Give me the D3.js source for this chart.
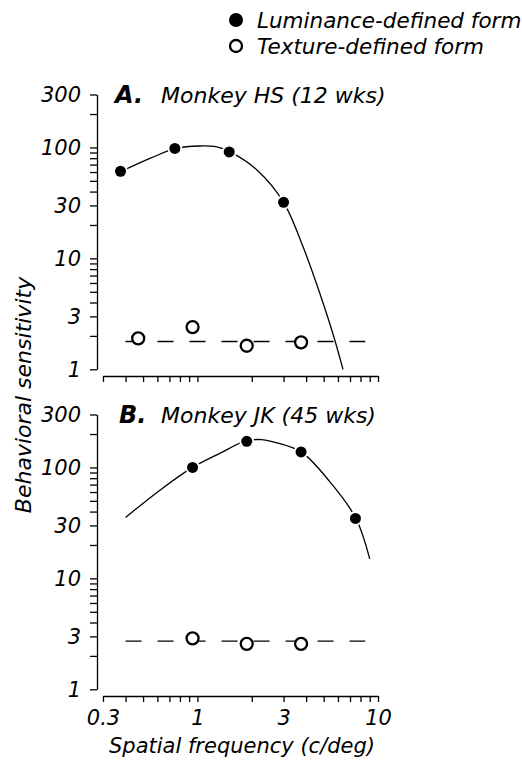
<!DOCTYPE html>
<html>
<head>
<meta charset="utf-8">
<script src="https://cdn.jsdelivr.net/npm/d3@7"></script>
<style>
  body { margin: 0; background: #fff; }
  svg { font-family: "DejaVu Sans", sans-serif; font-style: italic; }
  .axis path, .axis line { stroke: #000; stroke-width: 1.3; }
  .axis text { font-size: 21px; fill: #000; font-family: "DejaVu Sans", sans-serif; }
</style>
</head>
<body>
<svg id="chart" width="522" height="762"></svg>
<script>
// values: spatial frequency (c/deg) and sensitivity
const lumFreqA = [0.375, 0.75, 1.5, 3];
const lumSensA = [61, 98, 91, 32];
const texFreqA = [0.47, 0.94, 1.875, 3.75];
const texSensA = [1.9, 2.4, 1.63, 1.75];
const texLevelA = 1.78;
const fitFreqA = [0.38, 0.55, 0.76, 1.03, 1.28, 1.5, 2.15, 3.0, 3.86, 4.77, 5.65, 6.4];
const fitSensA = [61, 80, 98, 103, 101, 92, 62, 32, 12.5, 4.8, 2.05, 1.0];

const lumFreqB = [0.94, 1.875, 3.75, 7.5];
const lumSensB = [100, 172, 138, 34.7];
const texFreqB = [0.94, 1.875, 3.75];
const texSensB = [2.88, 2.57, 2.57];
const texLevelB = 2.72;
const fitFreqB = [0.4, 0.62, 0.94, 1.33, 1.87, 2.27, 2.63, 3.75, 5.42, 7.55, 9.0];
const fitSensB = [35.4, 62.4, 100, 134, 174, 178, 170, 138, 74, 34.7, 15];

const texLineFreq = [0.4, 8.5];
const xTickLabels = [0.3, 1, 3, 10];
const yTickLabels = [1, 3, 10, 30, 100, 300];
const panelLetters = ['A.', 'B.'];
const panelNames = ['Monkey HS (12 wks)', 'Monkey JK (45 wks)'];
const legendLabels = ['Luminance-defined form', 'Texture-defined form'];

const svg = d3.select('#chart');

const x = d3.scaleLog().domain([0.3, 10]).range([103, 378]);

const panels = [
  { top: 0, lumF: lumFreqA, lumS: lumSensA, texF: texFreqA, texS: texSensA, level: texLevelA, fitF: fitFreqA, fitS: fitSensA, labels: false },
  { top: 320, lumF: lumFreqB, lumS: lumSensB, texF: texFreqB, texS: texSensB, level: texLevelB, fitF: fitFreqB, fitS: fitSensB, labels: true }
];

panels.forEach((p, i) => {
  const y = d3.scaleLog().domain([1, 300]).range([369.3 + p.top, 94.5 + p.top]);
  const g = svg.append('g');

  // axes
  const yAxis = d3.axisLeft(y)
    .tickValues(y.ticks())
    .tickFormat(d => yTickLabels.includes(d) ? d : '')
    .tickSize(7)
    .tickSizeOuter(0)
    .tickPadding(9);
  g.append('g')
    .attr('class', 'axis')
    .attr('transform', 'translate(97,0)')
    .call(yAxis);

  const xAxis = d3.axisBottom(x)
    .tickValues(x.ticks())
    .tickFormat(d => p.labels && xTickLabels.includes(d) ? d : '')
    .tickSize(6)
    .tickSizeOuter(0)
    .tickPadding(8);
  g.append('g')
    .attr('class', 'axis')
    .attr('transform', `translate(0,${376 + p.top})`)
    .call(xAxis);

  // texture-defined: flat dashed line
  g.append('line')
    .attr('x1', x(texLineFreq[0]))
    .attr('x2', x(texLineFreq[1]))
    .attr('y1', y(p.level))
    .attr('y2', y(p.level))
    .attr('stroke', '#000')
    .attr('stroke-width', 1.3)
    .attr('stroke-dasharray', '16,16');

  // luminance-defined: fitted curve
  const fit = p.fitF.map((f, k) => ({ f: f, v: p.fitS[k] }));
  g.append('path')
    .datum(fit)
    .attr('fill', 'none')
    .attr('stroke', '#000')
    .attr('stroke-width', 1.3)
    .attr('d', d3.line().x(d => x(d.f)).y(d => y(d.v)).curve(d3.curveCatmullRom.alpha(0.5)));

  const lum = p.lumF.map((f, k) => ({ f: f, v: p.lumS[k] }));
  g.selectAll('.halo')
    .data(lum)
    .join('circle')
    .attr('class', 'halo')
    .attr('cx', d => x(d.f))
    .attr('cy', d => y(d.v))
    .attr('r', 7.3)
    .attr('fill', '#fff');
  g.selectAll('.lum')
    .data(lum)
    .join('circle')
    .attr('class', 'lum')
    .attr('cx', d => x(d.f))
    .attr('cy', d => y(d.v))
    .attr('r', 5.5)
    .attr('fill', '#000');

  const tex = p.texF.map((f, k) => ({ f: f, v: p.texS[k] }));
  g.selectAll('.tex')
    .data(tex)
    .join('circle')
    .attr('class', 'tex')
    .attr('cx', d => x(d.f))
    .attr('cy', d => y(d.v))
    .attr('r', 6)
    .attr('fill', '#fff')
    .attr('stroke', '#000')
    .attr('stroke-width', 2.3);

  // panel title
  const title = g.append('text')
    .attr('y', 103 + p.top);
  title.append('tspan')
    .attr('x', 115 + i * 4)
    .attr('font-size', 24)
    .attr('font-weight', 'bold')
    .text(panelLetters[i]);
  title.append('tspan')
    .attr('x', 161)
    .attr('font-size', 22)
    .text(panelNames[i]);
});

// legend
const legend = svg.append('g');
legend.append('circle')
  .attr('cx', 236).attr('cy', 20).attr('r', 7)
  .attr('fill', '#000');
legend.append('circle')
  .attr('cx', 236).attr('cy', 46).attr('r', 6)
  .attr('fill', '#fff').attr('stroke', '#000').attr('stroke-width', 2.3);
legend.selectAll('text')
  .data(legendLabels)
  .join('text')
  .attr('x', 257)
  .attr('y', (d, k) => 27.5 + k * 26)
  .attr('font-size', 21.5)
  .text(d => d);

// axis titles
svg.append('text')
  .attr('x', 242)
  .attr('y', 753)
  .attr('text-anchor', 'middle')
  .attr('font-size', 21)
  .text('Spatial frequency (c/deg)');

svg.append('text')
  .attr('transform', 'translate(31,395) rotate(-90)')
  .attr('text-anchor', 'middle')
  .attr('font-size', 22)
  .text('Behavioral sensitivity');
</script>
</body>
</html>
